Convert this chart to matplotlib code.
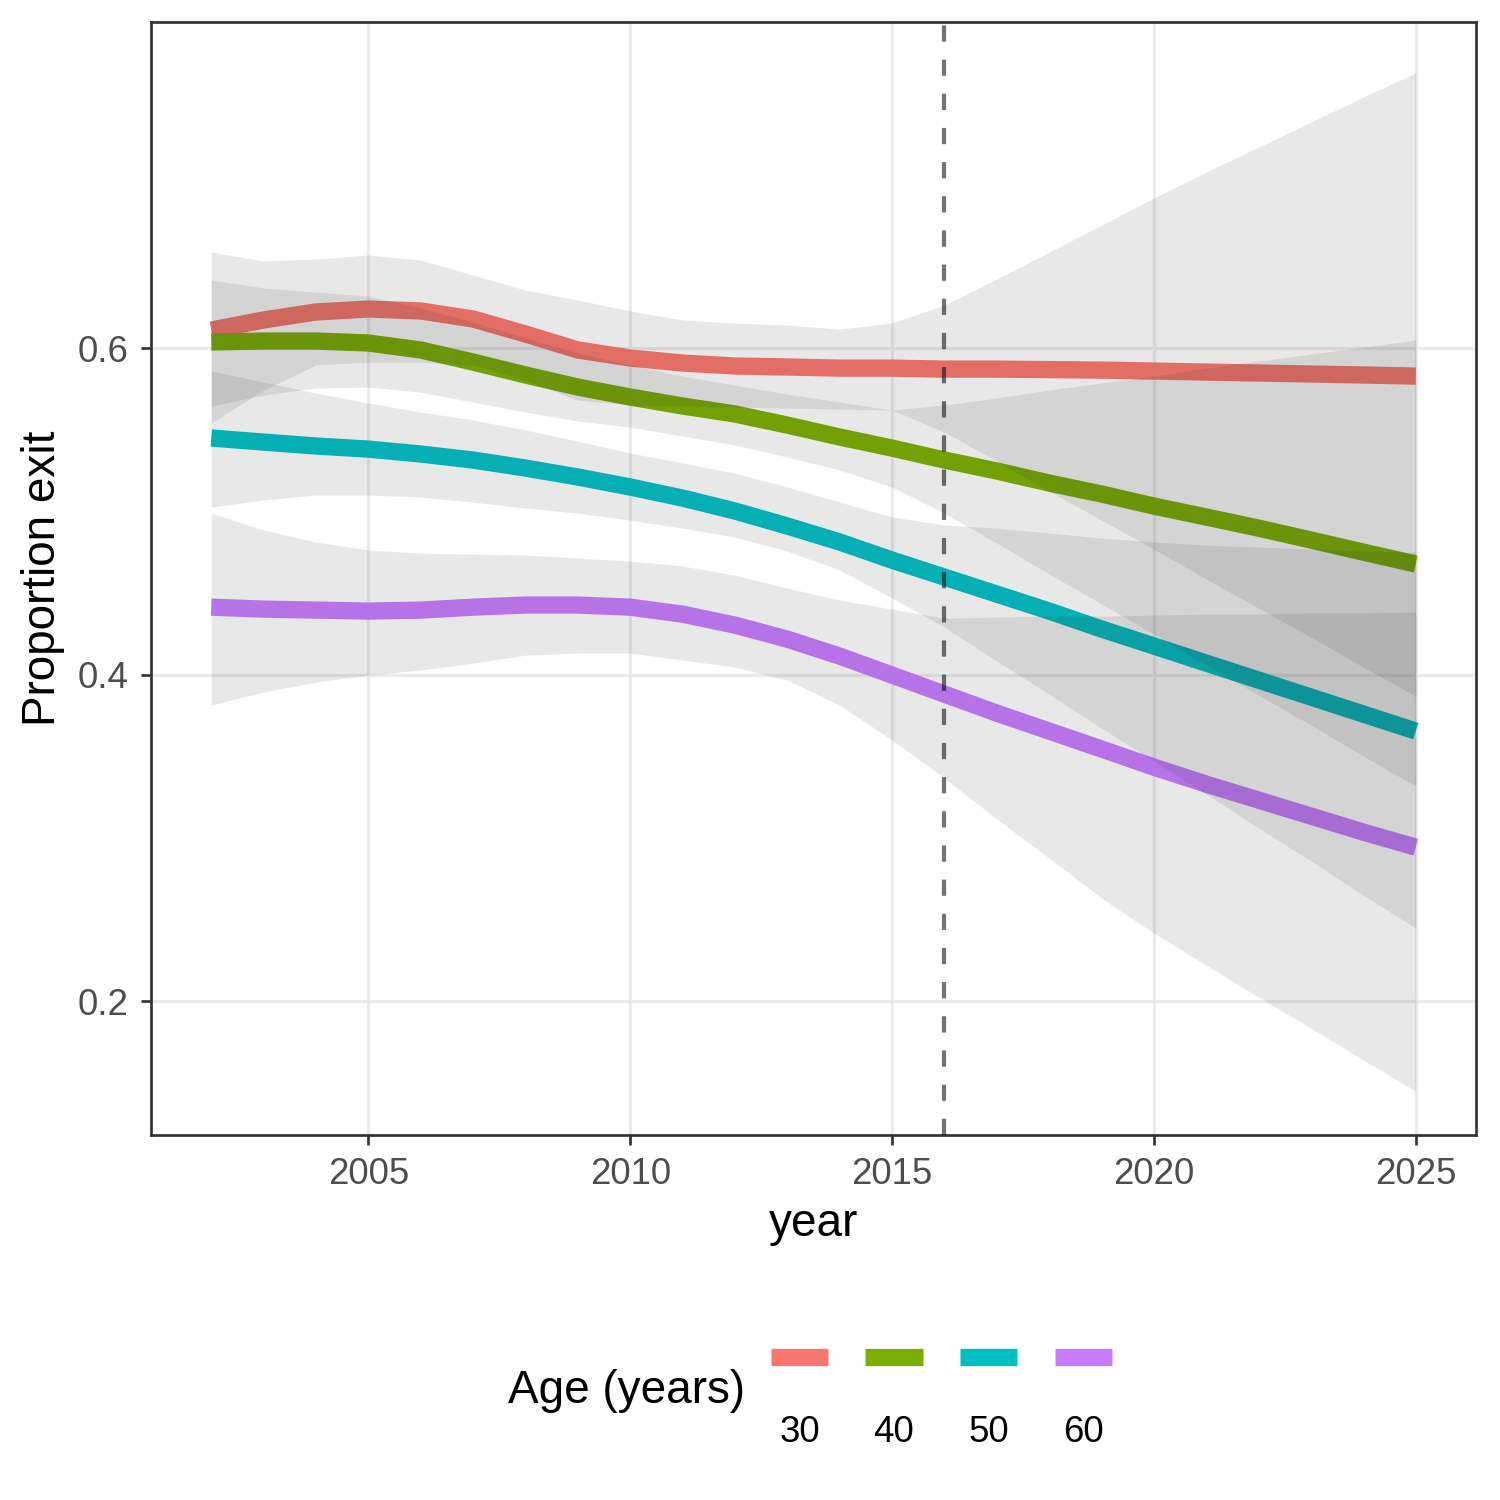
import matplotlib
matplotlib.use("Agg")
import matplotlib.pyplot as plt
from matplotlib.lines import Line2D
import numpy as np

plt.rcParams['font.family'] = ['Liberation Sans', 'DejaVu Sans']

years = list(range(2002, 2026))
ages = ["30", "40", "50", "60"]
colors = ["#F8766D", "#7CAE00", "#00BFC4", "#C77CFF"]

fit_30 = [0.6110, 0.6172, 0.6221, 0.6239, 0.6227, 0.6178, 0.6086, 0.5988, 0.5939, 0.5908, 0.5890, 0.5884,
          0.5877, 0.5877, 0.5871, 0.5871, 0.5868, 0.5865, 0.5859, 0.5853, 0.5847, 0.5841, 0.5835, 0.5828]
upr_30 = [0.6588, 0.6533, 0.6545, 0.6570, 0.6539, 0.6447, 0.6355, 0.6294, 0.6227, 0.6172, 0.6153, 0.6141,
          0.6116, 0.6153, 0.6263, 0.6423, 0.6588, 0.6753, 0.6919, 0.7078, 0.7231, 0.7384, 0.7538, 0.7685]
lwr_30 = [0.5541, 0.5743, 0.5896, 0.5914, 0.5914, 0.5896, 0.5804, 0.5681, 0.5651, 0.5645, 0.5639, 0.5632,
          0.5626, 0.5620, 0.5485, 0.5308, 0.5124, 0.4946, 0.4769, 0.4585, 0.4407, 0.4230, 0.4046, 0.3868]

fit_40 = [0.6037, 0.6043, 0.6043, 0.6031, 0.5988, 0.5914, 0.5835, 0.5761, 0.5700, 0.5645, 0.5596, 0.5528,
          0.5455, 0.5387, 0.5314, 0.5247, 0.5173, 0.5106, 0.5032, 0.4965, 0.4897, 0.4824, 0.4750, 0.4677]
upr_40 = [0.6417, 0.6368, 0.6343, 0.6319, 0.6245, 0.6159, 0.6061, 0.5969, 0.5896, 0.5828, 0.5773, 0.5718,
          0.5669, 0.5620, 0.5651, 0.5694, 0.5743, 0.5786, 0.5828, 0.5877, 0.5920, 0.5963, 0.6006, 0.6049]
lwr_40 = [0.5645, 0.5712, 0.5755, 0.5761, 0.5730, 0.5669, 0.5608, 0.5553, 0.5516, 0.5461, 0.5406, 0.5332,
          0.5253, 0.5149, 0.4989, 0.4805, 0.4616, 0.4432, 0.4248, 0.4058, 0.3874, 0.3691, 0.3501, 0.3317]

fit_50 = [0.5449, 0.5424, 0.5400, 0.5381, 0.5351, 0.5314, 0.5265, 0.5210, 0.5149, 0.5081, 0.5002, 0.4910,
          0.4812, 0.4701, 0.4597, 0.4493, 0.4389, 0.4279, 0.4175, 0.4070, 0.3966, 0.3862, 0.3758, 0.3654]
upr_50 = [0.5859, 0.5792, 0.5724, 0.5663, 0.5608, 0.5559, 0.5498, 0.5430, 0.5357, 0.5296, 0.5234, 0.5149,
          0.5057, 0.4965, 0.4916, 0.4897, 0.4867, 0.4836, 0.4812, 0.4793, 0.4781, 0.4769, 0.4756, 0.4750]
lwr_50 = [0.5026, 0.5069, 0.5100, 0.5100, 0.5087, 0.5057, 0.5020, 0.4989, 0.4946, 0.4897, 0.4842, 0.4756,
          0.4640, 0.4469, 0.4291, 0.4083, 0.3880, 0.3672, 0.3470, 0.3268, 0.3060, 0.2858, 0.2649, 0.2447]

fit_60 = [0.4413, 0.4401, 0.4395, 0.4389, 0.4395, 0.4413, 0.4426, 0.4426, 0.4413, 0.4370, 0.4303, 0.4217,
          0.4113, 0.3997, 0.3880, 0.3764, 0.3654, 0.3544, 0.3433, 0.3329, 0.3231, 0.3133, 0.3035, 0.2943]
upr_60 = [0.4989, 0.4885, 0.4812, 0.4763, 0.4744, 0.4738, 0.4732, 0.4714, 0.4695, 0.4665, 0.4609, 0.4530,
          0.4456, 0.4401, 0.4346, 0.4352, 0.4358, 0.4358, 0.4364, 0.4371, 0.4371, 0.4377, 0.4377, 0.4383]
lwr_60 = [0.3813, 0.3893, 0.3954, 0.3997, 0.4028, 0.4070, 0.4119, 0.4132, 0.4132, 0.4089, 0.4046, 0.3966,
          0.3813, 0.3599, 0.3366, 0.3115, 0.2876, 0.2631, 0.2416, 0.2220, 0.2024, 0.1835, 0.1638, 0.1449]

fits = [fit_30, fit_40, fit_50, fit_60]
uprs = [upr_30, upr_40, upr_50, upr_60]
lwrs = [lwr_30, lwr_40, lwr_50, lwr_60]

cutoff_year = 2016
x_ticks = [2005, 2010, 2015, 2020, 2025]
y_ticks = [0.2, 0.4, 0.6]

fig = plt.figure(figsize=(5, 5), dpi=300)
ax = fig.add_axes([151/1500, 1 - 1135/1500, (1476-151)/1500, (1135-22)/1500])

LW = 4.15
for f, c in zip(fits, colors):
    ax.plot(years, f, color=c, lw=LW, solid_capstyle='butt', solid_joinstyle='round', zorder=2)
for u, l in zip(uprs, lwrs):
    ax.fill_between(years, l, u, color='#333333', alpha=0.11, lw=0, zorder=3)

ax.axvline(cutoff_year, color='black', alpha=0.55, lw=1.0, dashes=(3.9, 4.3), zorder=4)

ax.set_xlim(2000.85, 2026.15)
ax.set_ylim(0.118, 0.7997)
ax.set_xticks(x_ticks)
ax.set_xticklabels([str(t) for t in x_ticks])
ax.set_yticks(y_ticks)
ax.set_yticklabels([f"{t:.1f}" for t in y_ticks])

ax.grid(True, color='#EBEBEB', lw=0.75, zorder=0)
ax.set_axisbelow(True)
for s in ax.spines.values():
    s.set_color('#333333')
    s.set_linewidth(0.65)
ax.tick_params(axis='both', length=2.4, width=0.65, color='#333333',
               labelcolor='#4D4D4D', labelsize=8.8, pad=3.0)

ax.set_xlabel('year', fontsize=11, color='black', va='baseline')
ax.xaxis.set_label_coords(0.5, (1135 - 1236) / 1113)
ax.set_ylabel('Proportion exit', fontsize=11, color='black')
ax.yaxis.set_label_coords((65 - 151) / 1325, 0.5)

# legend (bottom, horizontal)
fig.text(508/1500, 1 - 1403/1500, 'Age (years)', fontsize=11, ha='left', va='baseline', color='black')
key_left = 771
key_step = 94.5
key_w = 57
for i, (a, c) in enumerate(zip(ages, colors)):
    x0 = (key_left + i*key_step) / 1500
    x1 = (key_left + i*key_step + key_w) / 1500
    yk = 1 - 1356.5/1500
    fig.add_artist(Line2D([x0, x1], [yk, yk], color=c, lw=LW, solid_capstyle='butt',
                          transform=fig.transFigure))
    fig.text((x0 + x1)/2, 1 - 1442/1500, a, fontsize=8.8, ha='center', va='baseline', color='black')

fig.savefig('out.png', dpi=300, facecolor='white')
